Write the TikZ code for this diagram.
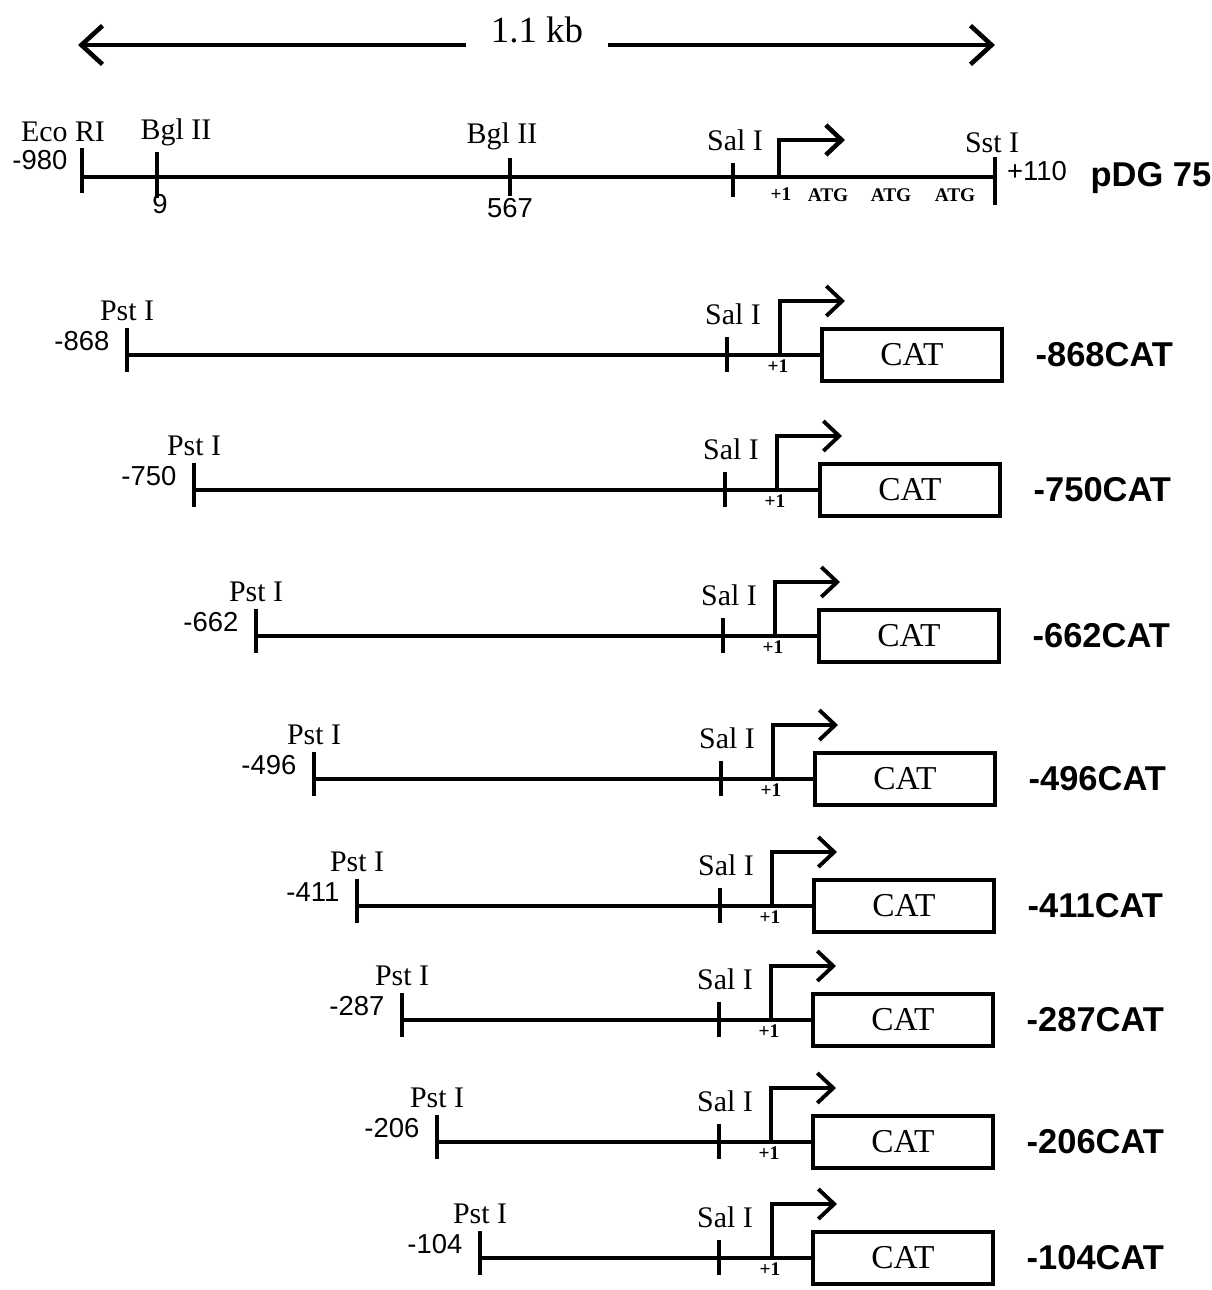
\documentclass[tikz,border=0pt]{standalone}
\usepackage{fontspec}
\setmainfont{Liberation Serif}
\newfontfamily\numfont{Liberation Sans}
\usetikzlibrary{arrows.meta,positioning}

\begin{document}
\begin{tikzpicture}[x=0.01cm,y=-0.01cm,>={Straight Barb[length=4.5pt,width=8.5pt]},
    dna/.style={line width=1.4pt},
    rowline/.style={line width=0.9pt},
    sitetick/.style={line width=1.2pt},
    enzlab/.style={font=\fontsize{8.5}{9}\selectfont,inner sep=0pt},
    poslab/.style={font=\numfont\fontsize{7.8}{9}\selectfont,inner sep=0pt},
    smalllab/.style={font=\bfseries\fontsize{5.5}{6}\selectfont,inner sep=0pt},
    catbox/.style={draw,line width=1.1pt,minimum width=1.8cm,minimum height=0.52cm,
      inner sep=0pt,font=\fontsize{9.5}{10}\selectfont},
    constr/.style={font=\numfont\bfseries\fontsize{9.8}{11}\selectfont,anchor=west,inner sep=0pt},
    prom/.style={line width=1.1pt,->}]
  \useasboundingbox (0,0) rectangle (1211,1290);
  % length bar
  \node[font=\fontsize{10.5}{12}\selectfont,inner xsep=7pt,inner ysep=0pt] (kb) at (537,30) {1.1 kb};
  \coordinate (kbl) at (78,45);
  \coordinate (kbr) at (995,45);
  \draw[line width=1.3pt,-{Straight Barb[length=6pt,width=11pt]}] (kb.west |- kbl) -- (kbl);
  \draw[line width=1.3pt,-{Straight Barb[length=6pt,width=11pt]}] (kb.east |- kbr) -- (kbr);
  % pDG 75 map
  \foreach \nm/\xx in {eco/82, bgla/157, bglb/510, sal/733, tss/779, sst/995}
    \coordinate (\nm) at (\xx,177);
  \draw[dna] (eco) -- (sst);
  \foreach \nm/\up/\dn in {eco/29/16, bgla/25/21, bglb/19/19, sal/14/20, sst/20/28}
    \draw[sitetick] (\nm) ++(0,-\up) -- ++(0,\up+\dn);
  \draw[prom,line width=1.3pt] (tss) -- ++(0,-37) -- ++(66,0);
  \node[enzlab] (ecolab) at (63,132) {Eco RI};
  \node[poslab,anchor=east] (ecopos) at (68,160) {-980};
  \node[enzlab] (bglalab) at (176,132) {Bgl II};
  \node[poslab] (bglapos) at (160,204) {9};
  \node[enzlab] (bglblab) at (502,136) {Bgl II};
  \node[poslab] (bglbpos) at (510,208) {567};
  \node[enzlab] (sallab) at (735,140) {Sal I};
  \node[enzlab] (sstlab) at (992,143) {Sst I};
  \node[poslab] (sstpos) at (1037,171) {+110};
  \node[font=\numfont\bfseries\fontsize{9.8}{11}\selectfont,inner sep=0pt] (pdg) at (1151,178) {pDG 75};
  \node[smalllab] (one) at (781,194) {+1};
  \foreach \xx [count=\i] in {828,891,955}
    \node[smalllab] (atg\i) at (\xx,195) {ATG};
  % deletion constructs
  \foreach \nm/\px/\ly/\sx/\tx/\bl in {868/127/355/727/780/820, 750/194/490/725/777/818,
      662/256/636/723/775/817, 496/314/779/721/773/813, 411/357/906/720/772/812,
      287/402/1020/719/771/811, 206/437/1142/719/771/811, 104/480/1258/719/772/811}{
    \coordinate (pst\nm) at (\px,\ly);
    \coordinate (sal\nm) at (\sx,\ly);
    \coordinate (tss\nm) at (\tx,\ly);
    \node[catbox,anchor=west] (box\nm) at (\bl,\ly) {CAT};
    \draw[rowline] (pst\nm) -- (box\nm.west);
    \draw[sitetick] (pst\nm) ++(0,-27) -- ++(0,44);
    \draw[sitetick] (sal\nm) ++(0,-18) -- ++(0,35);
    \draw[prom] (tss\nm) -- ++(0,-54) -- ++(65,0);
    \node[enzlab,anchor=base] (pstlab\nm) at (\px,\ly-35) {Pst I};
    \node[poslab,anchor=east] (num\nm) at (\px-17,\ly-14) {-\nm};
    \node[enzlab,anchor=base] (sallab\nm) at (\sx+6,\ly-31) {Sal I};
    \node[smalllab] (one\nm) at (\tx-2,\ly+11) {+1};
    \node[constr] (name\nm) at ([xshift=0.31cm]box\nm.east) {-\nm CAT};
  }
\end{tikzpicture}
\end{document}
